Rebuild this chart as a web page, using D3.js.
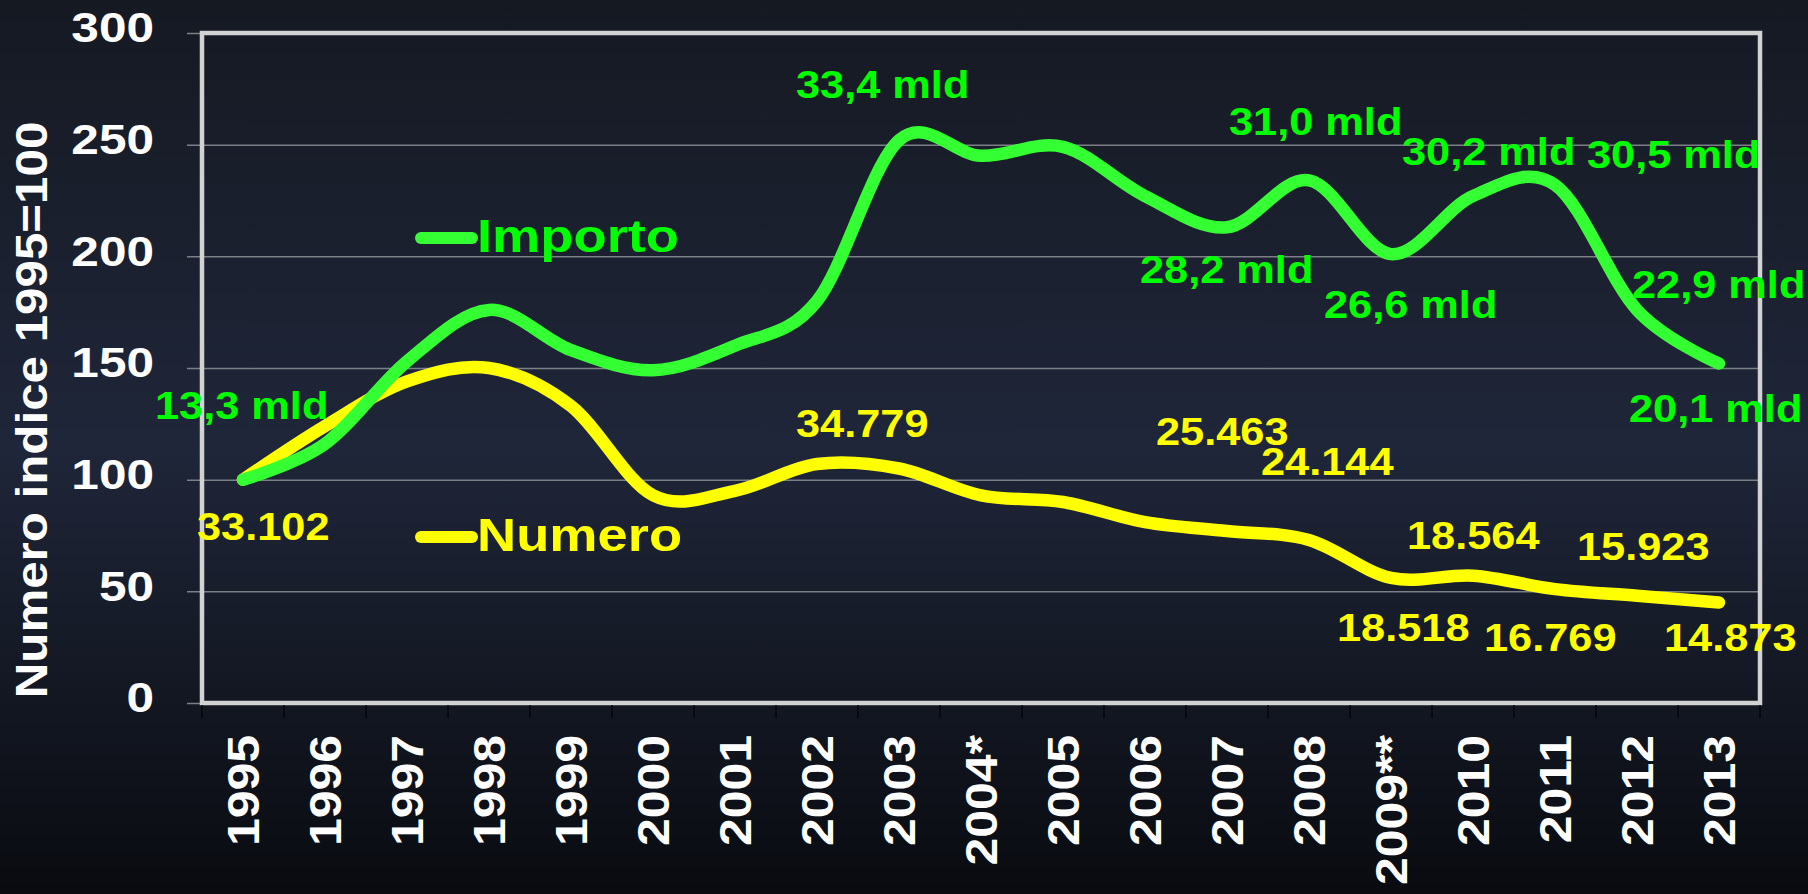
<!DOCTYPE html>
<meta charset="utf-8">
<script src="https://d3js.org/d3.v7.min.js"></script>
<style>
  body { margin: 0; background: #0a0c11; }
  text { font-family: "Liberation Sans", Arial, sans-serif; font-weight: bold; }
</style>
<div id="vis"></div>
<script>

    // data (index 1995 = 100)
    var years = ["1995", "1996", "1997", "1998", "1999", "2000", "2001", "2002", "2003", "2004*",
        "2005", "2006", "2007", "2008", "2009**", "2010", "2011", "2012", "2013"];
    var importo = [100, 116, 153, 176, 158, 149, 160, 180, 252, 245, 249, 227, 213, 234, 201, 227, 232, 176, 152];
    var numero = [100, 124, 144, 150, 133, 93, 95, 107, 105, 93, 90, 81, 77, 73, 56, 57, 51, 48, 45];
    var yTicks = [0, 50, 100, 150, 200, 250, 300];

    var importoLabelYears = ["1995", "2003", "2007", "2008", "2009**", "2010", "2011", "2012", "2013"];
    var importoLabelText = ["13,3 mld", "33,4 mld", "28,2 mld", "31,0 mld", "26,6 mld", "30,2 mld", "30,5 mld", "22,9 mld", "20,1 mld"];
    var numeroLabelYears = ["1995", "2002", "2007", "2008", "2009**", "2010", "2011", "2012", "2013"];
    var numeroLabelText = ["33.102", "34.779", "25.463", "24.144", "18.518", "18.564", "16.769", "15.923", "14.873"];

    // label offsets (px) from the point on the line
    var importoOffsets = [[-88, -61], [-103, -42], [-87, 56], [-80, -45], [-67, 64], [-71, -31], [32, -17], [-5, -12], [-90, 58]];
    var numeroOffsets = [[-46, 60], [-21, -27], [-71, -86], [-48, -65], [-54, 63], [-66, -27], [-71, 62], [-60, -36], [-55, 48]];

    var W = 1808, H = 894;
    var margin = { top: 33, right: 48, bottom: 191, left: 202 },
        width = W - margin.left - margin.right,
        height = H - margin.top - margin.bottom;

    var svg = d3.select("#vis").append("svg")
        .attr("width", W)
        .attr("height", H);

    // background gradient
    var grad = svg.append("defs").append("linearGradient")
        .attr("id", "bg").attr("x1", 0).attr("y1", 0).attr("x2", 0).attr("y2", 1);
    grad.append("stop").attr("offset", "0%").attr("stop-color", "#151922");
    grad.append("stop").attr("offset", "50%").attr("stop-color", "#1f2639");
    grad.append("stop").attr("offset", "78%").attr("stop-color", "#131722");
    grad.append("stop").attr("offset", "100%").attr("stop-color", "#090b10");
    svg.append("rect").attr("width", W).attr("height", H).attr("fill", "url(#bg)");

    var g = svg.append("g")
        .attr("transform", "translate(" + margin.left + "," + margin.top + ")");

    var x = d3.scaleBand().domain(years).range([0, width]).padding(0);
    var y = d3.scaleLinear().domain([0, 300]).range([height, 0]);
    var cx = function (yr) { return x(yr) + x.bandwidth() / 2; };

    // stretch text a bit wider, like the original
    function stretch(sel, k, anchor) {
        sel.each(function () {
            var t = d3.select(this);
            var w = this.getComputedTextLength() * k;
            var x0 = +t.attr("x") || 0;
            var sx = anchor == "end" ? x0 - w : anchor == "middle" ? x0 - w / 2 : x0;
            t.attr("text-anchor", "start").attr("x", sx)
                .attr("textLength", w).attr("lengthAdjust", "spacingAndGlyphs");
        });
    }

    // gridlines + y labels
    var yAxis = g.append("g")
        .attr("transform", "translate(-15,0)")
        .call(d3.axisLeft(y).tickValues(yTicks).tickSize(-(width + 15)).tickPadding(33));
    yAxis.select(".domain").remove();
    yAxis.selectAll("line").attr("stroke", "#7c7f86").attr("stroke-width", 1.5);
    yAxis.selectAll("text")
        .attr("fill", "#ffffff")
        .style("font-size", "42px")
        .attr("dy", "0.28em")
        .attr("y", -3);
    stretch(yAxis.selectAll("text"), 1.18, "end");

    // plot border
    g.append("rect")
        .attr("width", width).attr("height", height)
        .attr("fill", "none")
        .attr("stroke", "#d2d2d2")
        .attr("stroke-width", 4.5);

    // category boundary ticks
    g.selectAll(".xtick")
        .data(d3.range(years.length + 1))
        .enter().append("line")
        .attr("x1", function (i) { return i * x.step(); })
        .attr("x2", function (i) { return i * x.step(); })
        .attr("y1", height + 2)
        .attr("y2", height + 15)
        .attr("stroke", "#050608")
        .attr("stroke-width", 1.5);

    // x labels, rotated
    var xl = g.selectAll(".xl")
        .data(years)
        .enter().append("text")
        .attr("transform", function (d) { return "translate(" + cx(d) + "," + (height + 32) + ") rotate(-90)"; })
        .attr("dy", "0.36em")
        .attr("fill", "#ffffff")
        .style("font-size", "45px")
        .text(function (d) { return d; });
    stretch(xl, 1.11, "end");

    // y title
    var yt = svg.append("text")
        .attr("transform", "translate(31,410) rotate(-90)")
        .attr("dy", "0.36em")
        .attr("fill", "#ffffff")
        .style("font-size", "44px")
        .text("Numero indice 1995=100");
    stretch(yt, 1.12, "middle");

    // lines
    var line = d3.line()
        .x(function (d, i) { return cx(years[i]); })
        .y(function (d) { return y(d); })
        .curve(d3.curveCatmullRom.alpha(0));

    g.append("path").datum(numero)
        .attr("d", line)
        .attr("fill", "none")
        .attr("stroke", "#ffff00")
        .attr("stroke-width", 12.5)
        .attr("stroke-linecap", "round")
        .attr("stroke-linejoin", "round");

    g.append("path").datum(importo)
        .attr("d", line)
        .attr("fill", "none")
        .attr("stroke", "#33ff33")
        .attr("stroke-width", 12.5)
        .attr("stroke-linecap", "round")
        .attr("stroke-linejoin", "round");

    // value labels
    function addLabels(yrs, txt, offs, vals, color) {
        var lab = g.selectAll(null)
            .data(yrs)
            .enter().append("text")
            .attr("x", function (d, i) { return cx(d) + offs[i][0]; })
            .attr("y", function (d, i) { return y(vals[years.indexOf(d)]) + offs[i][1]; })
            .attr("fill", color)
            .style("font-size", "38px")
            .text(function (d, i) { return txt[i]; });
        stretch(lab, 1.14, "start");
    }
    addLabels(importoLabelYears, importoLabelText, importoOffsets, importo, "#00ff00");
    addLabels(numeroLabelYears, numeroLabelText, numeroOffsets, numero, "#ffff00");

    // legend
    var legend = [
        { name: "Importo", line: "#33ff33", text: "#00ff00", y: 238 },
        { name: "Numero", line: "#ffff00", text: "#ffff00", y: 537 }
    ];
    legend.forEach(function (l) {
        svg.append("line")
            .attr("x1", 421).attr("x2", 472)
            .attr("y1", l.y).attr("y2", l.y)
            .attr("stroke", l.line)
            .attr("stroke-width", 12)
            .attr("stroke-linecap", "round");
        var t = svg.append("text")
            .attr("x", 477).attr("y", l.y + 14)
            .attr("fill", l.text)
            .style("font-size", "46px")
            .text(l.name);
        stretch(t, 1.18, "start");
    });

</script>
